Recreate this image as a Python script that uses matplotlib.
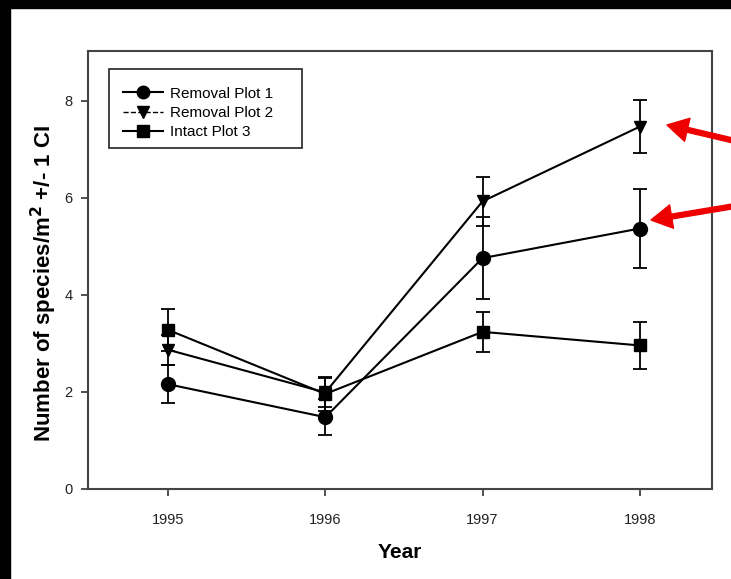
import matplotlib
matplotlib.use("Agg")
import matplotlib.pyplot as plt
from matplotlib.lines import Line2D
from matplotlib.patches import Rectangle

plt.rcParams['font.family'] = ['Liberation Sans', 'DejaVu Sans']

years = [1995, 1996, 1997, 1998]
labels = ["Removal Plot 1", "Removal Plot 2", "Intact Plot 3"]
removal1 = [2.16, 1.48, 4.76, 5.37]
removal1_ci = [0.39, 0.37, 0.85, 0.82]
removal2 = [2.87, 1.99, 5.93, 7.47]
removal2_ci = [0.31, 0.30, 0.51, 0.54]
intact3 = [3.28, 1.96, 3.24, 2.96]
intact3_ci = [0.43, 0.35, 0.41, 0.49]
yticks = [0, 2, 4, 6, 8]

fig = plt.figure(figsize=(7.31, 5.79), dpi=100)
ax = fig.add_axes([88/731, 90/579, (712-88)/731, (489-51)/579])

series = [(removal1, removal1_ci, 'o', 10), (removal2, removal2_ci, 'v', 9), (intact3, intact3_ci, 's', 9)]
for vals, ci, mk, ms in series:
    ax.errorbar(years, vals, yerr=ci, color='black', marker=mk, markersize=ms,
                linewidth=1.5, elinewidth=1.3, capsize=5, capthick=1.3)

ax.set_xlim(1994.49, 1998.46)
ax.set_ylim(0, 9.03)
ax.set_xticks(years)
ax.set_xticklabels([str(y) for y in years])
ax.set_yticks(yticks)
ax.tick_params(axis='both', direction='out', length=5, width=1.2, colors='#333333', labelsize=10.5, labelcolor='#222222')
ax.tick_params(axis='y', pad=6)
ax.tick_params(axis='x', pad=12)
for s in ax.spines.values():
    s.set_color('#444444')
    s.set_linewidth(1.5)

ax.set_xlabel("Year", fontsize=15, fontweight='bold', labelpad=12)
ax.set_ylabel("Number of species/m$^\\mathbf{2}$ +/- 1 CI", fontsize=16, fontweight='bold')
ax.yaxis.set_label_coords(-0.047, 0.47)

handles = [
    Line2D([], [], color='black', marker='o', markersize=9, linewidth=1.5),
    Line2D([], [], color='black', marker='v', markersize=8, linewidth=1.0, linestyle='--'),
    Line2D([], [], color='black', marker='s', markersize=8, linewidth=1.5),
]
leg = ax.legend(handles, labels, loc='upper left', bbox_to_anchor=(0.0337, 0.950), fontsize=11,
                frameon=False, handlelength=2.6, borderaxespad=0,
                labelspacing=0.35, borderpad=0.9, handletextpad=0.5)
# legend frame
ax.add_patch(Rectangle((0.0337, 0.7785), 0.343 - 0.0337, 0.959 - 0.7785, transform=ax.transAxes,
                       fill=False, edgecolor='#222222', linewidth=1.2, zorder=5))

# black slide border
fig.add_artist(Rectangle((0, 0), 10/731, 1, transform=fig.transFigure, color='black', zorder=10))
fig.add_artist(Rectangle((0, 1 - 8/579), 1, 8/579, transform=fig.transFigure, color='black', zorder=10))

# red arrows
arrow_kw = dict(facecolor='#ee0000', edgecolor='#ee0000', width=3.5, headwidth=17, headlength=15, shrink=0)
ax.annotate('', xy=(667, 579-125), xycoords='figure pixels', xytext=(735, 579-141),
            textcoords='figure pixels', arrowprops=arrow_kw, annotation_clip=False)
ax.annotate('', xy=(651, 579-220), xycoords='figure pixels', xytext=(735, 579-206),
            textcoords='figure pixels', arrowprops=arrow_kw, annotation_clip=False)

fig.savefig("out.png", dpi=100)
